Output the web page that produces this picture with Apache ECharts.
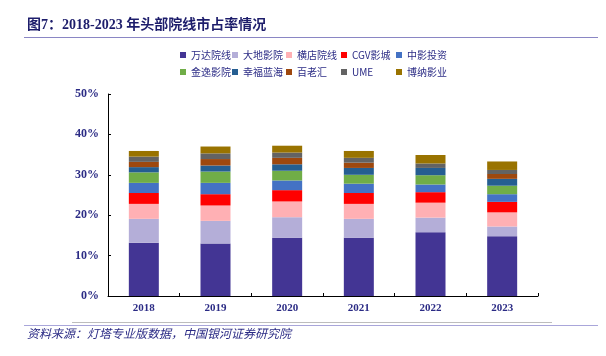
<!DOCTYPE html>
<html>
<head>
<meta charset="utf-8">
<script src="https://cdn.jsdelivr.net/npm/echarts@6/dist/echarts.min.js"></script>
<style>
html,body{margin:0;padding:0;background:#fff;}
#chart{width:606px;height:356px;}
</style>
</head>
<body>
<div id="chart"></div>
<script>
const years = ['2018', '2019', '2020', '2021', '2022', '2023'];
const seriesNames = ['万达院线', '大地影院', '横店院线', 'CGV影城', '中影投资', '金逸影院', '幸福蓝海', '百老汇', 'UME', '博纳影业'];
const wanda     = [13.2, 13.0, 14.4, 14.4, 15.8, 14.8];
const dadi      = [5.9, 5.6, 5.1, 4.7, 3.6, 2.4];
const hengdian  = [3.7, 3.8, 3.9, 3.7, 3.7, 3.5];
const cgv       = [2.7, 2.8, 2.8, 2.7, 2.6, 2.6];
const zhongying = [2.5, 2.8, 2.4, 2.3, 1.9, 1.9];
const jinyi     = [2.6, 2.8, 2.4, 2.2, 2.3, 2.1];
const xingfu    = [1.3, 1.5, 1.6, 1.7, 1.8, 1.7];
const bailaohui = [1.3, 1.6, 1.6, 1.3, 0, 1.2];
const ume       = [1.3, 1.4, 1.3, 1.2, 1.1, 1.0];
const bona      = [1.4, 1.7, 1.7, 1.7, 2.1, 2.1];
const yTicks = ['0%', '10%', '20%', '30%', '40%', '50%'];

const values = [wanda, dadi, hengdian, cgv, zhongying, jinyi, xingfu, bailaohui, ume, bona];
const colors = ['#433594', '#b4aed8', '#ffb0b4', '#ff0000', '#4472c4', '#70ad47', '#255e91', '#9e480e', '#636363', '#997300'];

const navy = '#2b2b85';
const legendLefts = [180, 232, 286, 341, 396];
const legends = legendLefts.map((l, i) => ({
  orient: 'vertical',
  left: l,
  top: 49,
  padding: 0,
  itemWidth: 6,
  itemHeight: 6,
  itemGap: 5,
  icon: 'rect',
  selectedMode: false,
  data: [seriesNames[i], seriesNames[i + 5]],
  textStyle: { fontSize: 10, color: navy, fontFamily: 'Noto Sans CJK SC', lineHeight: 12 }
}));

const chart = echarts.init(document.getElementById('chart'), null, { renderer: 'canvas' });
chart.setOption({
  animation: false,
  backgroundColor: '#fff',
  title: {
    text: '图7：2018-2023 年头部院线市占率情况',
    left: 27,
    top: 18,
    padding: 0,
    textStyle: { fontSize: 14, fontWeight: 'bold', color: '#1d1d6b', fontFamily: '"Liberation Serif", "Noto Sans CJK SC"' }
  },
  legend: legends,
  grid: { left: 108, right: 68, top: 94, bottom: 60, containLabel: false },
  xAxis: {
    type: 'category',
    data: years,
    axisLine: { lineStyle: { color: '#000', width: 1 } },
    axisTick: { show: true, inside: true, length: 3, lineStyle: { color: '#000' } },
    axisLabel: { fontSize: 11, fontWeight: 'bold', color: navy, fontFamily: '"Liberation Serif"', margin: 7 }
  },
  yAxis: {
    type: 'value',
    min: 0,
    max: 50,
    interval: 10,
    axisLine: { show: true, lineStyle: { color: '#000', width: 1 } },
    axisTick: { show: true, inside: true, length: 3, lineStyle: { color: '#000' } },
    splitLine: { show: false },
    axisLabel: {
      fontSize: 12, fontWeight: 'bold', color: navy, fontFamily: '"Liberation Serif"', margin: 9,
      formatter: (v) => yTicks[Math.round(v / 10)]
    }
  },
  series: values.map((arr, i) => ({
    name: seriesNames[i],
    type: 'bar',
    stack: 'total',
    barWidth: 30,
    data: arr,
    itemStyle: { color: colors[i] }
  })),
  graphic: [
    { type: 'line', shape: { x1: 24, y1: 37.5, x2: 598, y2: 37.5 }, style: { stroke: '#8a86c4', lineWidth: 1 } },
    { type: 'line', shape: { x1: 72, y1: 322.5, x2: 552, y2: 322.5 }, style: { stroke: '#bdbdbd', lineWidth: 1 } },
    { type: 'line', shape: { x1: 24, y1: 325.5, x2: 598, y2: 325.5 }, style: { stroke: '#a9a6da', lineWidth: 1 } },
    { type: 'text', left: 27, top: 327, style: { text: '资料来源：灯塔专业版数据，中国银河证券研究院', fontSize: 12, fontStyle: 'italic', fill: '#2b2b85', fontFamily: 'Noto Sans CJK SC' } }
  ]
});
</script>
</body>
</html>
